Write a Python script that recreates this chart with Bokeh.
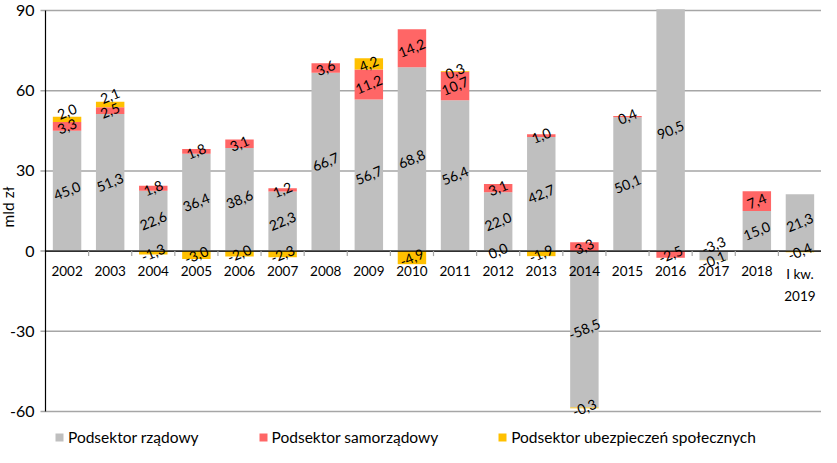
import numpy as np
from bokeh.plotting import figure
from bokeh.models import Range1d, Legend, LegendItem, ColumnDataSource
from bokeh.core.properties import value
from bokeh.embed import file_html
from bokeh.resources import INLINE

categories = ["2002", "2003", "2004", "2005", "2006", "2007", "2008", "2009", "2010",
              "2011", "2012", "2013", "2014", "2015", "2016", "2017", "2018", "I kw.\n2019"]
rzadowy = [45.0, 51.3, 22.6, 36.4, 38.6, 22.3, 66.7, 56.7, 68.8, 56.4, 22.0, 42.7,
           -58.5, 50.1, 90.5, -3.3, 15.0, 21.3]
samorzadowy = [3.3, 2.5, 1.8, 1.8, 3.1, 1.2, 3.6, 11.2, 14.2, 10.7, 3.1, 1.0,
               3.3, 0.4, -2.5, None, 7.4, None]
ubezpieczen = [2.0, 2.1, -1.3, -3.0, -2.0, -2.3, None, 4.2, -4.9, 0.3, 0.0, -1.9,
               -0.3, None, None, -0.1, None, -0.4]
series_names = ["Podsektor rządowy", "Podsektor samorządowy", "Podsektor ubezpieczeń społecznych"]
series_colors = ["#BFBFBF", "#FF6666", "#FFC000"]
y_ticks = [-60, -30, 0, 30, 60, 90]
y_label = "mld zł"

FONT = "Lato"
n = len(categories)
xc = np.arange(n) + 0.5

# layout (pixels inside the figure)
W, H = 821, 447
AX_LEFT = 45          # pixel of the value axis
PLOT_TOP = 10         # pixel of top tick
PLOT_BOTTOM = 411     # pixel of bottom tick
sx = (W - AX_LEFT) / n
sy = (PLOT_BOTTOM - PLOT_TOP) / (y_ticks[-1] - y_ticks[0])
x_range = Range1d(-AX_LEFT / sx, n)
y_range = Range1d(y_ticks[0] - (H - PLOT_BOTTOM) / sy, y_ticks[-1] + PLOT_TOP / sy)

p = figure(width=W, height=H, output_backend="svg", toolbar_location=None,
           x_range=x_range, y_range=y_range, x_axis_type=None, y_axis_type=None,
           min_border=0)
p.outline_line_color = None
p.background_fill_color = "white"

# gridlines
p.segment(x0=[0] * len(y_ticks), y0=y_ticks, x1=[n] * len(y_ticks), y1=y_ticks,
          line_color="#A6A6A6", line_width=1.5)
# y tick marks
p.ray(x=[0] * len(y_ticks), y=y_ticks, length=5, length_units="screen", angle=np.pi,
      line_color="#A6A6A6", line_width=1.5)

# stacked bars (positive and negative stacked separately)
pos_base = np.zeros(n)
neg_base = np.zeros(n)
renderers = []
last_pos = [None] * n
last_neg = [None] * n      # index into label lists
MIN_SEP = 5.5
lab_x, lab_y, lab_t = [], [], []
for vals, color in zip([rzadowy, samorzadowy, ubezpieczen], series_colors):
    bx, bottoms, tops = [], [], []
    for i, v in enumerate(vals):
        if v is None:
            continue
        if v > 0:
            b, t = pos_base[i], pos_base[i] + v
            pos_base[i] = t
            ly = (b + t) / 2
            if last_pos[i] is not None and ly - last_pos[i] < MIN_SEP:
                ly = last_pos[i] + MIN_SEP
            last_pos[i] = ly
        else:
            b, t = neg_base[i] + v, neg_base[i]
            neg_base[i] = b
            ly = (b + t) / 2
            if v != 0:
                j = last_neg[i]
                if j is not None and lab_y[j] - ly < MIN_SEP:
                    lab_y[j] = ly + MIN_SEP
                last_neg[i] = len(lab_y)
        bx.append(xc[i])
        bottoms.append(b)
        tops.append(t)
        lab_x.append(xc[i])
        lab_y.append(ly)
        lab_t.append(f"{v:.1f}".replace(".", ","))
    src = ColumnDataSource(dict(x=bx, bottom=bottoms, top=tops))
    r = p.vbar(x="x", bottom="bottom", top="top", width=0.66, source=src,
               fill_color=color, line_color=None)
    renderers.append(r)

# value axis line and zero line
p.segment(x0=[0], y0=[y_ticks[0]], x1=[0], y1=[y_ticks[-1]], line_color="black", line_width=1.2)
p.segment(x0=[0], y0=[0], x1=[n], y1=[0], line_color="black", line_width=1.2)
# category tick marks
p.ray(x=list(range(1, n)), y=[0] * (n - 1), length=5, length_units="screen",
      angle=-np.pi / 2, line_color="#A6A6A6", line_width=1.2)

# data labels
p.text(x=lab_x, y=lab_y, text=lab_t, angle=0.39, text_align="center",
       text_baseline="middle", text_font=value(FONT), text_font_size="14px",
       text_color="black")

# category labels
p.text(x=xc, y=[0] * n, text=categories, text_align="center", text_baseline="top",
       y_offset=15, text_font=value(FONT), text_font_size="13.5px", text_color="black",
       text_line_height=1.4)

# y tick labels
p.text(x=[0] * len(y_ticks), y=y_ticks, text=[str(t) for t in y_ticks], text_align="right",
       text_baseline="middle", x_offset=-11, text_font=value(FONT), text_font_size="16px",
       text_color="black")

# y axis title
p.text(x=[0], y=[16.5], text=[y_label], angle=np.pi / 2, x_offset=-38, text_align="center",
       text_baseline="middle", text_font=value(FONT), text_font_size="15.5px", text_color="black")

legend = Legend(items=[LegendItem(label=nm, renderers=[r]) for nm, r in zip(series_names, renderers)],
                orientation="horizontal", location=(54, 1), margin=0, padding=0,
                spacing=59, label_standoff=4, glyph_width=10, glyph_height=10,
                label_text_font=FONT, label_text_font_size="15.5px", label_text_color="black",
                border_line_color=None, background_fill_alpha=0)
p.add_layout(legend, "center")

open("out.html", "w").write(file_html(p, INLINE))
